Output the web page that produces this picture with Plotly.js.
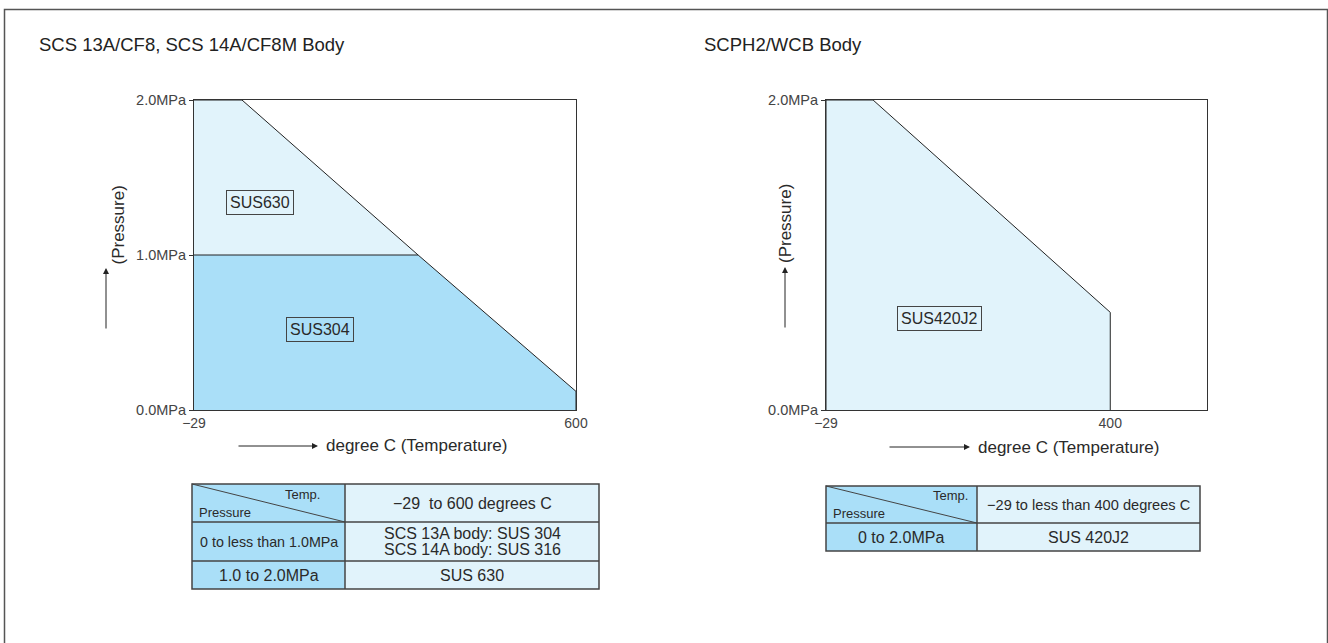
<!DOCTYPE html>
<html>
<head>
<meta charset="utf-8">
<script src="https://cdn.plot.ly/plotly-3.0.1.min.js"></script>
<style>html,body{margin:0;padding:0;background:#fff;}#chart{width:1328px;height:643px;}</style>
</head>
<body>
<div id="chart"></div>
<script>
// ---------- DATA ----------
const leftTitle = 'SCS 13A/CF8, SCS 14A/CF8M Body';
const rightTitle = 'SCPH2/WCB Body';
// Left chart boundary (temperature, pressure)
const leftTemps = [-29, 50, 340, 600];
const leftPress = [2.0, 2.0, 1.0, 0.12];
const leftSplitPress = 1.0;
// Right chart boundary
const rightTemps = [-29, 42, 400, 400];
const rightPress = [2.0, 2.0, 0.63, 0.0];
// Axis ticks
const leftYTickVals = [0, 1, 2];
const leftYTickText = ['0.0MPa', '1.0MPa', '2.0MPa'];
const rightYTickVals = [0, 2];
const rightYTickText = ['0.0MPa', '2.0MPa'];
const leftXTickVals = [-29, 600];
const leftXTickText = ['\u221229', '600'];
const rightXTickVals = [-29, 400];
const rightXTickText = ['\u221229', '400'];
// Region labels
const leftLabels = ['SUS630', 'SUS304'];
const leftLabelX = [80, 178];
const leftLabelY = [1.34, 0.52];
const rightLabels = ['SUS420J2'];
const rightLabelX = [143];
const rightLabelY = [0.59];
// Axis titles
const yTitle = '(Pressure)';
const xTitle = 'degree C (Temperature)';
// Tables
const headerTemp = 'Temp.';
const headerPress = 'Pressure';
const leftTempRange = '\u221229&nbsp;&nbsp;to 600 degrees C';
const leftRowLabels = ['0 to less than 1.0MPa', '1.0 to 2.0MPa'];
const leftRowValues = [['SCS 13A body: SUS 304', 'SCS 14A body: SUS 316'], ['SUS 630']];
const rightTempRange = '\u221229 to less than 400 degrees C';
const rightRowLabels = ['0 to 2.0MPa'];
const rightRowValues = [['SUS 420J2']];

// ---------- STYLE ----------
const W = 1328, H = 643;
const px = x => x / W;
const py = y => 1 - y / H;
const FONT = 'Liberation Sans, Arial, Helvetica, sans-serif';
const DARK = '#aadff8';
const LIGHT = '#e1f3fb';
const LINE = '#222';
const TXT = '#2a2a2a';

// ---------- TRACES ----------
const splitT = leftTemps[2];
const traces = [
  { // SUS304 region
    x: [leftTemps[0], leftTemps[0], splitT, leftTemps[3], leftTemps[3]],
    y: [0, leftSplitPress, leftSplitPress, leftPress[3], 0],
    xaxis: 'x', yaxis: 'y', mode: 'lines', fill: 'toself', fillcolor: DARK,
    line: {width: 0}, showlegend: false, hoverinfo: 'skip'
  },
  { // SUS630 region
    x: [leftTemps[0], leftTemps[0], leftTemps[1], splitT],
    y: [leftSplitPress, leftPress[0], leftPress[1], leftSplitPress],
    xaxis: 'x', yaxis: 'y', mode: 'lines', fill: 'toself', fillcolor: LIGHT,
    line: {width: 0}, showlegend: false, hoverinfo: 'skip'
  },
  { // boundary
    x: leftTemps.concat([leftTemps[3]]),
    y: leftPress.concat([0]),
    xaxis: 'x', yaxis: 'y', mode: 'lines', line: {color: LINE, width: 1},
    showlegend: false, hoverinfo: 'skip'
  },
  { // split line
    x: [leftTemps[0], splitT], y: [leftSplitPress, leftSplitPress],
    xaxis: 'x', yaxis: 'y', mode: 'lines', line: {color: LINE, width: 1},
    showlegend: false, hoverinfo: 'skip'
  },
  { // right region
    x: [rightTemps[0]].concat(rightTemps),
    y: [0].concat(rightPress),
    xaxis: 'x2', yaxis: 'y2', mode: 'lines', fill: 'toself', fillcolor: LIGHT,
    line: {color: LINE, width: 1}, showlegend: false, hoverinfo: 'skip'
  }
];

// ---------- AXES ----------
function xAxis(domain, range, tv, tt) {
  return {domain: domain, range: range, tickvals: tv, ticktext: tt, ticks: '',
    showgrid: false, zeroline: false, showline: true, mirror: true,
    linecolor: '#333', linewidth: 1, fixedrange: true,
    tickfont: {family: FONT, size: 14, color: '#444'}};
}
function yAxis(domain, tv, tt) {
  return {domain: domain, range: [0, 2], tickvals: tv, ticktext: tt,
    ticks: 'outside', ticklen: 4, tickcolor: '#333',
    showgrid: false, zeroline: false, showline: true, mirror: true,
    linecolor: '#333', linewidth: 1, fixedrange: true,
    tickfont: {family: FONT, size: 14.5, color: '#444'}};
}

// ---------- ANNOTATIONS & SHAPES ----------
const ann = [];
const shapes = [];

// outer border
shapes.push({type: 'rect', xref: 'paper', yref: 'paper', x0: px(4.5), x1: px(1327.5), y0: py(660), y1: py(9.5),
  line: {color: '#555', width: 1.5}});

// chart titles
ann.push({xref: 'paper', yref: 'paper', x: px(37), y: py(45), xanchor: 'left', yanchor: 'middle',
  text: leftTitle, showarrow: false, font: {family: FONT, size: 18.5, color: '#222'}});
ann.push({xref: 'paper', yref: 'paper', x: px(702), y: py(45), xanchor: 'left', yanchor: 'middle',
  text: rightTitle, showarrow: false, font: {family: FONT, size: 18.5, color: '#222'}});

// region labels
leftLabels.forEach((t, i) => ann.push({xref: 'x', yref: 'y', x: leftLabelX[i], y: leftLabelY[i], text: t,
  showarrow: false, bordercolor: '#444', borderwidth: 1, borderpad: 3,
  font: {family: FONT, size: 16, color: TXT}}));
rightLabels.forEach((t, i) => ann.push({xref: 'x2', yref: 'y2', x: rightLabelX[i], y: rightLabelY[i], text: t,
  showarrow: false, bordercolor: '#444', borderwidth: 1, borderpad: 3,
  font: {family: FONT, size: 16, color: TXT}}));

// axis titles with arrows
function axisTitles(yx, yc, yArrowHead, yArrowTail, xArrowTail, xArrowHead, xy, xTextLeft) {
  ann.push({xref: 'paper', yref: 'paper', x: px(yx), y: py(yc), text: yTitle, textangle: -90,
    showarrow: false, font: {family: FONT, size: 17, color: TXT}});
  ann.push({xref: 'paper', yref: 'paper', x: px(yx), y: py(yArrowHead), text: '', showarrow: true,
    ax: 0, ay: yArrowTail - yArrowHead, arrowhead: 2, arrowsize: 1.2, arrowwidth: 1, arrowcolor: '#222'});
  ann.push({xref: 'paper', yref: 'paper', x: px(xArrowHead), y: py(xy), text: '', showarrow: true,
    ax: xArrowTail - xArrowHead, ay: 0, arrowhead: 2, arrowsize: 1.2, arrowwidth: 1, arrowcolor: '#222'});
  ann.push({xref: 'paper', yref: 'paper', x: px(xTextLeft), y: py(xy), xanchor: 'left', yanchor: 'middle',
    text: xTitle, showarrow: false, font: {family: FONT, size: 17, color: TXT}});
}
axisTitles(106, 225, 268, 330, 237, 318, 446, 324);
axisTitles(785, 224, 267, 329, 888, 970, 447, 976);

// tables
function drawTable(x0, xs, x1, rowsY, tempRange, rowLabels, rowValues, opt) {
  const top = rowsY[0], bottom = rowsY[rowsY.length - 1];
  shapes.push({type: 'rect', xref: 'paper', yref: 'paper', x0: px(x0), x1: px(xs), y0: py(bottom), y1: py(top),
    fillcolor: DARK, line: {width: 0}, layer: 'below'});
  shapes.push({type: 'rect', xref: 'paper', yref: 'paper', x0: px(xs), x1: px(x1), y0: py(bottom), y1: py(top),
    fillcolor: LIGHT, line: {width: 0}, layer: 'below'});
  const L = {color: '#444', width: 1.5};
  shapes.push({type: 'rect', xref: 'paper', yref: 'paper', x0: px(x0), x1: px(x1), y0: py(bottom), y1: py(top), line: L});
  shapes.push({type: 'line', xref: 'paper', yref: 'paper', x0: px(xs), x1: px(xs), y0: py(bottom), y1: py(top), line: L});
  for (let i = 1; i < rowsY.length - 1; i++) {
    shapes.push({type: 'line', xref: 'paper', yref: 'paper', x0: px(x0), x1: px(x1), y0: py(rowsY[i]), y1: py(rowsY[i]), line: L});
  }
  shapes.push({type: 'line', xref: 'paper', yref: 'paper', x0: px(x0), x1: px(xs), y0: py(top), y1: py(rowsY[1]),
    line: {color: '#444', width: 1}});
  ann.push({xref: 'paper', yref: 'paper', x: px(xs - opt.tempInset), y: py(top + 10), xanchor: 'right', yanchor: 'middle',
    text: headerTemp, showarrow: false, font: {family: FONT, size: 13, color: TXT}});
  ann.push({xref: 'paper', yref: 'paper', x: px(x0 + 5), y: py(rowsY[1] - 10), xanchor: 'left', yanchor: 'middle',
    text: headerPress, showarrow: false, font: {family: FONT, size: 13, color: TXT}});
  ann.push({xref: 'paper', yref: 'paper', x: px((xs + x1) / 2), y: py((top + rowsY[1]) / 2), xanchor: 'center', yanchor: 'middle',
    text: tempRange, showarrow: false, font: {family: FONT, size: opt.headSize, color: TXT}});
  rowLabels.forEach((t, i) => {
    const yc = (rowsY[i + 1] + rowsY[i + 2]) / 2;
    ann.push({xref: 'paper', yref: 'paper', x: px((x0 + xs) / 2), y: py(yc), xanchor: 'center', yanchor: 'middle',
      text: t, showarrow: false, font: {family: FONT, size: opt.labelSizes[i], color: TXT}});
    const lines = rowValues[i];
    const lh = 15.5;
    lines.forEach((ln, j) => {
      const yl = yc + (j - (lines.length - 1) / 2) * lh;
      ann.push({xref: 'paper', yref: 'paper', x: px((xs + x1) / 2), y: py(yl), xanchor: 'center', yanchor: 'middle',
        text: ln, showarrow: false, font: {family: FONT, size: 16, color: TXT}});
    });
  });
}
drawTable(192, 345, 599, [484, 522, 561, 589], leftTempRange, leftRowLabels, leftRowValues,
  {tempInset: 23, headSize: 16, labelSizes: [14.3, 16]});
drawTable(826, 977, 1200, [486, 523, 551], rightTempRange, rightRowLabels, rightRowValues,
  {tempInset: 7, headSize: 14.6, labelSizes: [16]});

const layout = {
  width: W, height: H, margin: {l: 0, r: 0, t: 0, b: 0},
  paper_bgcolor: '#fff', plot_bgcolor: 'rgba(0,0,0,0)',
  showlegend: false, hovermode: false,
  font: {family: FONT, color: TXT},
  xaxis: Object.assign(xAxis([px(194), px(576)], [-29, 600], leftXTickVals, leftXTickText), {anchor: 'y'}),
  yaxis: Object.assign(yAxis([py(410), py(100)], leftYTickVals, leftYTickText), {anchor: 'x'}),
  xaxis2: Object.assign(xAxis([px(826), px(1207)], [-29, 546], rightXTickVals, rightXTickText), {anchor: 'y2'}),
  yaxis2: Object.assign(yAxis([py(410), py(100)], rightYTickVals, rightYTickText), {anchor: 'x2'}),
  annotations: ann,
  shapes: shapes
};

Plotly.newPlot('chart', traces, layout, {staticPlot: true, displayModeBar: false});
</script>
</body>
</html>
